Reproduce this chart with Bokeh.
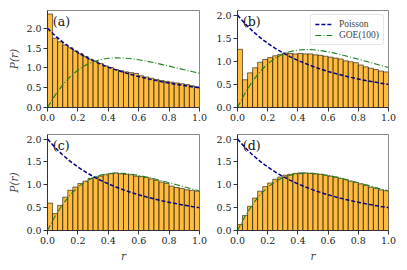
from bokeh.plotting import figure
from bokeh.layouts import column, row
from bokeh.models import Range1d, FixedTicker, NumeralTickFormatter
from bokeh.core.properties import value
from bokeh.embed import file_html
from bokeh.resources import INLINE
import numpy as np

# ---- data ----
n_bins = 30
hist_a = [2.36, 1.75, 1.66, 1.58, 1.51, 1.43, 1.36, 1.29, 1.22, 1.16,
          1.11, 1.05, 1.01, 0.96, 0.93, 0.90, 0.88, 0.86, 0.80, 0.77,
          0.74, 0.71, 0.68, 0.66, 0.64, 0.62, 0.60, 0.58, 0.55, 0.52]
hist_b = [1.26, 0.60, 0.75, 0.86, 0.98, 1.04, 1.08, 1.12, 1.15, 1.18,
          1.17, 1.16, 1.17, 1.16, 1.16, 1.14, 1.13, 1.11, 1.09, 1.07,
          1.05, 1.01, 0.99, 0.97, 0.92, 0.88, 0.85, 0.82, 0.79, 0.77]
hist_c = [0.60, 0.37, 0.55, 0.73, 0.88, 0.95, 1.03, 1.08, 1.14, 1.17,
          1.19, 1.22, 1.245, 1.26, 1.24, 1.23, 1.22, 1.19, 1.18, 1.16,
          1.13, 1.10, 1.06, 1.03, 0.97, 0.94, 0.92, 0.89, 0.88, 0.86]
hist_d = [0.13, 0.33, 0.53, 0.71, 0.86, 0.96, 1.04, 1.12, 1.17, 1.21,
          1.23, 1.25, 1.26, 1.26, 1.25, 1.24, 1.23, 1.21, 1.19, 1.17,
          1.14, 1.11, 1.08, 1.05, 1.02, 0.99, 0.95, 0.92, 0.89, 0.87]

curve_r = [0.0, 0.05, 0.1, 0.15, 0.2, 0.25, 0.3, 0.35, 0.4, 0.45, 0.5,
           0.55, 0.6, 0.65, 0.7, 0.75, 0.8, 0.85, 0.9, 0.95, 1.0]
poisson = [2.0, 1.814, 1.653, 1.512, 1.389, 1.280, 1.183, 1.097, 1.020, 0.951, 0.889,
           0.833, 0.781, 0.735, 0.692, 0.653, 0.617, 0.584, 0.554, 0.526, 0.500]
goe = [0.0, 0.312, 0.572, 0.782, 0.946, 1.069, 1.156, 1.212, 1.243, 1.255, 1.250,
       1.232, 1.205, 1.171, 1.132, 1.089, 1.045, 1.000, 0.955, 0.910, 0.866]

x_ticks = [0.0, 0.2, 0.4, 0.6, 0.8, 1.0]
y_ticks = [0.0, 0.5, 1.0, 1.5, 2.0]

SERIF = "DejaVu Serif"
edges = np.linspace(0, 1, n_bins + 1)


def panel(label, hist, ymax, width, height, bl, br, bt, bb, ylabel, xlabel, legend):
    p = figure(width=width, height=height, x_range=Range1d(0, 1), y_range=Range1d(0, ymax),
               output_backend="svg", toolbar_location=None,
               min_border_left=bl, min_border_right=br, min_border_top=bt, min_border_bottom=bb,
               background_fill_color="white", border_fill_color="white")
    p.grid.visible = False
    p.outline_line_color = "#8a8a8a"
    p.outline_line_width = 1
    p.quad(left=edges[:-1], right=edges[1:], bottom=0, top=hist,
           fill_color="#FFA500", fill_alpha=0.75, line_color="black", line_alpha=0.7, line_width=0.8)
    kw_p = dict(legend_label="Poisson") if legend else {}
    kw_g = dict(legend_label="GOE(100)") if legend else {}
    p.line(curve_r, poisson, line_color="#00008B", line_dash="4 2", line_width=1.5, **kw_p)
    p.line(curve_r, goe, line_color="#1a801a", line_dash="6 2 1 2", line_width=1.1, **kw_g)
    p.text(x=[0.035], y=[0.965 * ymax], text=[label], text_baseline="top", text_align="left",
           text_font=value(SERIF), text_font_size="12.5px", text_color="#111111")
    for ax in (p.xaxis[0], p.yaxis[0]):
        ax.major_label_text_font = SERIF
        ax.major_label_text_font_size = "9.5px"
        ax.major_label_text_color = "#222222"
        ax.major_label_standoff = 2
        ax.major_tick_out = 4
        ax.major_tick_in = 0
        ax.minor_tick_out = 0
        ax.minor_tick_in = 0
        ax.axis_line_color = "#333333"
        ax.major_tick_line_color = "#333333"
        ax.formatter = NumeralTickFormatter(format="0.0")
        ax.axis_label_text_font = SERIF
        ax.axis_label_text_font_size = "10.5px"
        ax.axis_label_text_font_style = "italic"
        ax.axis_label_standoff = 3
    p.xaxis.ticker = FixedTicker(ticks=x_ticks)
    p.yaxis.ticker = FixedTicker(ticks=y_ticks)
    if ylabel:
        p.yaxis.axis_label = "P(r)"
    if xlabel:
        p.xaxis.axis_label = "r"
    if legend:
        lg = p.legend[0]
        lg.location = "top_right"
        lg.margin = 4
        lg.padding = 4
        lg.spacing = 1
        lg.label_text_font = "Liberation Serif"
        lg.label_text_font_size = "9.5px"
        lg.label_height = 10
        lg.glyph_height = 10
        lg.glyph_width = 18
        lg.label_standoff = 6
        lg.border_line_color = "#cccccc"
        lg.border_radius = 3
        lg.background_fill_alpha = 0.9
    return p


pa = panel("(a)", hist_a, 2.45, 208, 128, 47, 9, 10, 21, True, False, False)
pb = panel("(b)", hist_b, 2.1, 199, 128, 29, 19, 10, 21, False, False, True)
pc = panel("(c)", hist_c, 2.1, 208, 142, 47, 9, 6, 40, True, True, False)
pd = panel("(d)", hist_d, 2.1, 199, 142, 29, 19, 6, 40, False, True, False)

layout = column(row(pa, pb), row(pc, pd))
open("out.html", "w").write(file_html(layout, INLINE))
